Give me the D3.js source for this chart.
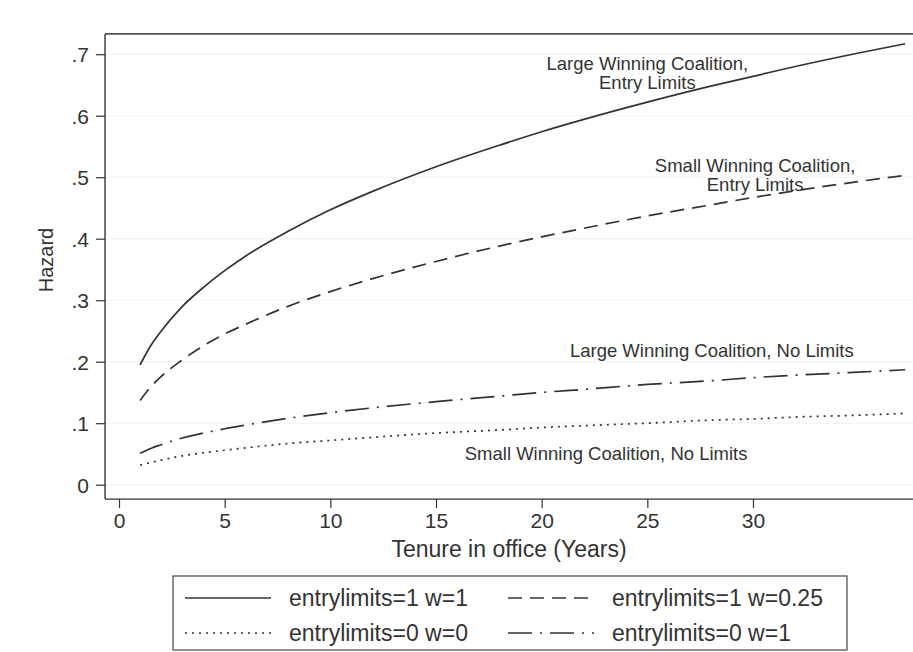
<!DOCTYPE html>
<html>
<head>
<meta charset="utf-8">
<script src="https://cdn.jsdelivr.net/npm/d3@7"></script>
<style>
  body { margin: 0; background: #fff; }
  svg { display: block; font-family: "Liberation Sans", Arial, sans-serif; }
</style>
</head>
<body>
<svg id="chart" width="913" height="652"></svg>
<script>
// Tenure (years) at which the hazard curves are sampled
const tenure = [1, 1.5, 2, 3, 4, 5, 6, 8, 10, 12, 15, 18, 20, 22, 25, 28, 30, 32, 35, 37.2];

// Hazard by group
const hazardEntry1W1    = [0.195, 0.226, 0.250, 0.290, 0.321, 0.348, 0.372, 0.412, 0.447, 0.477, 0.517, 0.552, 0.574, 0.594, 0.622, 0.648, 0.664, 0.680, 0.702, 0.717];
const hazardEntry1W025  = [0.137, 0.159, 0.176, 0.203, 0.226, 0.245, 0.261, 0.290, 0.314, 0.335, 0.363, 0.388, 0.403, 0.417, 0.437, 0.455, 0.467, 0.478, 0.493, 0.503];
const hazardEntry0W0    = [0.032, 0.036, 0.040, 0.047, 0.052, 0.056, 0.060, 0.067, 0.072, 0.077, 0.084, 0.089, 0.093, 0.096, 0.100, 0.105, 0.107, 0.110, 0.113, 0.116];
const hazardEntry0W1    = [0.051, 0.059, 0.065, 0.076, 0.084, 0.091, 0.097, 0.108, 0.117, 0.125, 0.135, 0.144, 0.150, 0.155, 0.163, 0.169, 0.174, 0.178, 0.183, 0.187];

const seriesNames = ["entrylimits=1 w=1", "entrylimits=1 w=0.25", "entrylimits=0 w=0", "entrylimits=0 w=1"];

const xTicks = [0, 5, 10, 15, 20, 25, 30];
const yTicks = [0, 0.1, 0.2, 0.3, 0.4, 0.5, 0.6, 0.7];
const yTickLabels = ["0", ".1", ".2", ".3", ".4", ".5", ".6", ".7"];

// Curve annotations: [line 1, line 2, tenure, hazard]
const notes = [
  ["Large Winning Coalition,", "Entry Limits", 25, 0.674],
  ["Small Winning Coalition,", "Entry Limits", 30.1, 0.508],
  ["Large Winning Coalition, No Limits", "", 28.05, 0.208],
  ["Small Winning Coalition, No Limits", "", 23.05, 0.040]
];

const svg = d3.select("#chart");
const ink = "#333";
const textInk = "#333";

const x = d3.scaleLinear().domain([0, 30]).range([119, 753]);
const y = d3.scaleLinear().domain([0, 0.7]).range([484.7, 54.2]);

const plotLeft = x(-0.66), plotRight = 913, plotTop = y(0.733), plotBottom = y(-0.0234);

// faint gridlines
svg.append("g").selectAll("line").data(yTicks).join("line")
  .attr("x1", plotLeft).attr("x2", plotRight)
  .attr("y1", d => y(d)).attr("y2", d => y(d))
  .attr("stroke", "#f0f0f0").attr("stroke-width", 1);

// top border of plot region
svg.append("line").attr("x1", plotLeft).attr("x2", plotRight)
  .attr("y1", plotTop).attr("y2", plotTop)
  .attr("stroke", "#555").attr("stroke-width", 1.6);

// y axis
const yAxis = svg.append("g").attr("transform", `translate(${plotLeft},0)`)
  .call(d3.axisLeft(y).tickValues(yTicks).tickFormat((d, i) => yTickLabels[i]).tickSize(9).tickPadding(7));
yAxis.select(".domain").attr("d", `M0,${plotTop}V${plotBottom}`).attr("stroke", ink).attr("stroke-width", 1.4);
yAxis.selectAll(".tick line").attr("stroke", ink).attr("stroke-width", 1.2);
yAxis.selectAll(".tick text").attr("font-family", null).attr("font-size", 21).attr("fill", textInk).attr("dy", "0.36em");

// x axis
const xAxis = svg.append("g").attr("transform", `translate(0,${plotBottom})`)
  .call(d3.axisBottom(x).tickValues(xTicks).tickFormat(d3.format("d")).tickSize(9).tickPadding(5));
xAxis.select(".domain").attr("d", `M${plotLeft},0H${plotRight}`).attr("stroke", ink).attr("stroke-width", 1.4);
xAxis.selectAll(".tick line").attr("stroke", ink).attr("stroke-width", 1.2);
xAxis.selectAll(".tick text").attr("font-family", null).attr("font-size", 21).attr("fill", textInk);

// axis titles
svg.append("text")
  .attr("x", (plotLeft + plotRight) / 2).attr("y", 557).attr("text-anchor", "middle")
  .attr("font-size", 23).attr("fill", textInk).text("Tenure in office (Years)");
svg.append("text")
  .attr("transform", `translate(53,260) rotate(-90)`).attr("text-anchor", "middle")
  .attr("font-size", 20).attr("fill", textInk).text("Hazard");

// line styles
const styles = [
  { data: hazardEntry1W1, dash: null },
  { data: hazardEntry1W025, dash: "14,8" },
  { data: hazardEntry0W0, dash: "2,5" },
  { data: hazardEntry0W1, dash: "24,8,2,8" }
];

const line = d3.line().x(d => x(d[0])).y(d => y(d[1])).curve(d3.curveMonotoneX);

svg.append("g").selectAll("path").data(styles).join("path")
  .attr("d", s => line(tenure.map((t, i) => [t, s.data[i]])))
  .attr("fill", "none").attr("stroke", ink).attr("stroke-width", 1.7)
  .attr("stroke-dasharray", s => s.dash);

// annotations
const ng = svg.append("g").attr("font-size", 18.5).attr("fill", textInk).attr("text-anchor", "middle");
notes.forEach(n => {
  ng.append("text").attr("x", x(n[2])).attr("y", y(n[3])).text(n[0]);
  if (n[1]) ng.append("text").attr("x", x(n[2])).attr("y", y(n[3]) + 19).text(n[1]);
});

// legend
const lg = svg.append("g");
lg.append("rect").attr("x", 173).attr("y", 576).attr("width", 674).attr("height", 74)
  .attr("fill", "#fff").attr("stroke", "#555").attr("stroke-width", 1.3);
const legendCells = [
  { col: 0, row: 0 }, { col: 1, row: 0 }, { col: 0, row: 1 }, { col: 1, row: 1 }
];
legendCells.forEach((c, i) => {
  const lx = c.col === 0 ? 185 : 508;
  const ly = c.row === 0 ? 598 : 633;
  lg.append("line").attr("x1", lx).attr("x2", lx + 86).attr("y1", ly).attr("y2", ly)
    .attr("stroke", ink).attr("stroke-width", 1.5).attr("stroke-dasharray", styles[i].dash);
  lg.append("text").attr("x", lx + 104).attr("y", ly + 8)
    .attr("font-size", 23).attr("fill", textInk).text(seriesNames[i]);
});
</script>
</body>
</html>
